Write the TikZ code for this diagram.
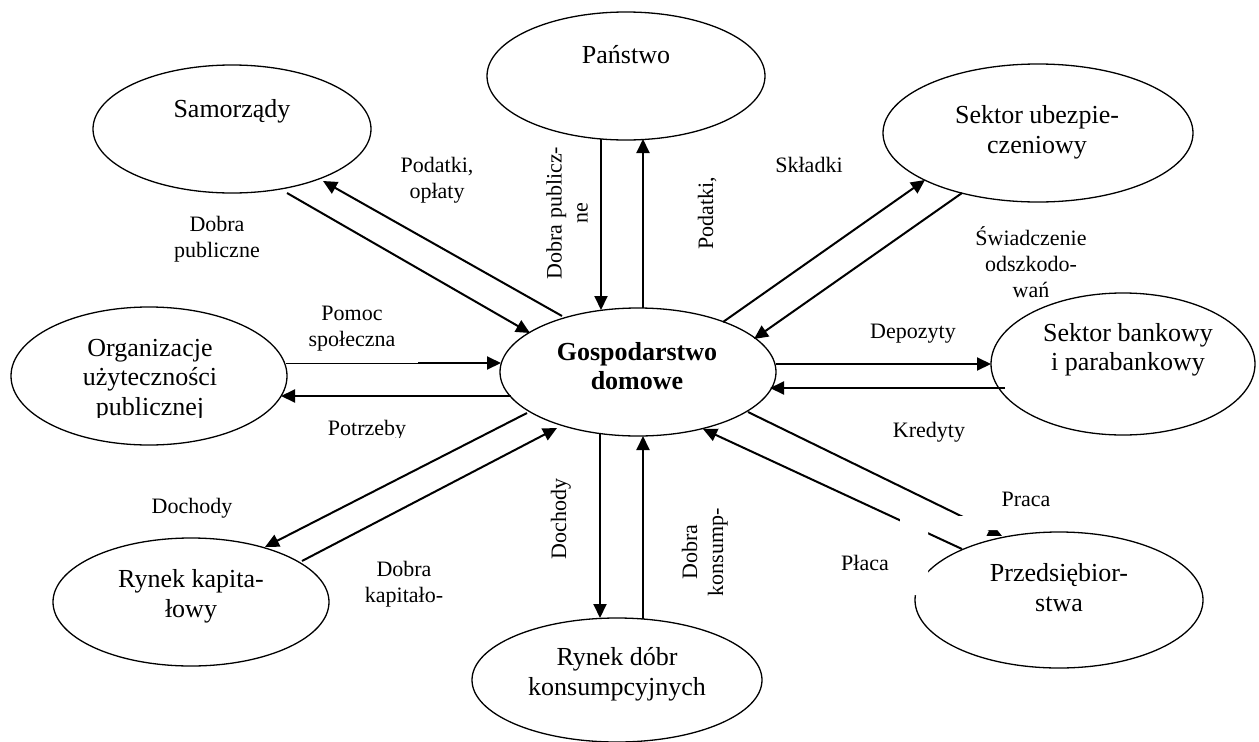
\documentclass[tikz,border=0pt]{standalone}
\usepackage{fontspec}
\setmainfont{Liberation Serif}
\usetikzlibrary{arrows.meta,calc,shapes.geometric}
\begin{document}
\begin{tikzpicture}[x=1pt,y=-1pt,
  sector/.style={draw, ellipse, line width=1.3pt, inner sep=0pt, outer sep=0pt},
  etext/.style={align=center, font=\fontsize{26}{29.5}\selectfont, inner sep=0pt,
    execute at begin node=\strut, execute at end node=\strut},
  lbl/.style={align=center, font=\fontsize{22}{26}\selectfont, inner sep=0pt,
    execute at begin node=\strut, execute at end node=\strut},
  flow/.style={line width=2pt, -{Triangle[length=14pt,width=13pt]}}]
\useasboundingbox (0,0) rectangle (1259,742);

% sectors
\node[sector, minimum width=278pt, minimum height=128pt] (pan) at (626,76) {};
\node[sector, minimum width=278pt, minimum height=128pt] (sam) at (232,129) {};
\node[sector, minimum width=310pt, minimum height=138pt] (ube) at (1038,133) {};
\node[sector, minimum width=264pt, minimum height=142pt] (ban) at (1123,364) {};
\node[sector, minimum width=276pt, minimum height=138pt] (org) at (149,376) {};
\node[sector, minimum width=276pt, minimum height=128pt] (gos) at (638,372) {};
\node[sector, minimum width=276pt, minimum height=128pt] (kap) at (191,602) {};
\node[sector, minimum width=290pt, minimum height=124pt] (dob) at (617,680) {};
\node[sector, minimum width=288pt, minimum height=136pt] (prz) at (1059,600) {};

% sector names
\node[etext] (tpan) at (626,57.1) {Państwo};
\node[etext] (tsam) at (232,111.8) {Samorządy};
\node[etext] (tube) at (1037,134.1) {Sektor ubezpie-\\czeniowy};
\node[etext] (tban) at (1128,351.6) {Sektor bankowy\\i parabankowy};
\begin{scope}
  \clip (0,300) rectangle (300,417);
  \node[etext] (torg) at (150,381.4) {Organizacje\\użyteczności\\publicznej};
\end{scope}
\node[etext, font=\fontsize{26}{29.5}\selectfont\bfseries] (tgos) at (637,370.6) {Gospodarstwo\\domowe};
\node[etext] (tkap) at (191,598.1) {Rynek kapita-\\łowy};
\node[etext] (tdob) at (617,676.1) {Rynek dóbr\\konsumpcyjnych};
\node[etext] (tprz) at (1059,592.1) {Przedsiębior-\\stwa};

% flows
\coordinate (pomoc) at (418,363);
\draw[flow] ($(pan.center)+(-25,63)$) -- ($(gos.center)+(-37,-62)$);
\draw[flow] ($(gos.center)+(5,-64)$) -- ($(pan.center)+(17,63)$);
\draw[flow] ($(gos.center)+(-76,-56)$) -- ($(sam.center)+(91,52)$);
\draw[flow] ($(sam.center)+(55,64)$) -- ($(gos.center)+(-108,-39)$);
\draw[line width=1pt] ($(org.center)+(137,-13)$) -- (pomoc);
\draw[flow] (pomoc) -- ($(gos.center)+(-137,-9)$);
\draw[flow] ($(gos.center)+(-127,24)$) -- ($(org.center)+(132,20)$);
\draw[flow] ($(gos.center)+(-111,41)$) -- ($(kap.center)+(74,-55)$);
\draw[flow] ($(kap.center)+(111,-41)$) -- ($(gos.center)+(-81,56)$);
\draw[flow] ($(gos.center)+(-38,62)$) -- ($(dob.center)+(-17,-62)$);
\draw[flow] ($(dob.center)+(26,-61)$) -- ($(gos.center)+(5,64)$);
\draw[flow] ($(gos.center)+(85,-50)$) -- ($(ube.center)+(-113,47)$);
\draw[flow] ($(ube.center)+(-76,60)$) -- ($(gos.center)+(116,-33)$);
\draw[flow] ($(gos.center)+(138,-8)$) -- ($(ban.center)+(-132,0)$);
\draw[flow] ($(ban.center)+(-118,24)$) -- ($(gos.center)+(132,16)$);
\draw[flow] ($(gos.center)+(110,40)$) -- ($(prz.center)+(-57,-64)$);
\draw[flow] ($(prz.center)+(-97,-51)$) -- ($(gos.center)+(65,57)$);

% blank patch over the corner of the enterprises oval
\fill[white] (900,516) -- (1012,516) -- (1012,530) -- (928,530) -- (928,595) -- (900,595) -- cycle;

% flow labels
\node[lbl, rotate=90] (ldp) at (570.8,213) {Dobra publicz-\\ne};
\node[lbl, rotate=90] (lpod) at (707.8,213.5) {Podatki,};
\node[lbl] (lpo) at (437,181.3) {Podatki,\\opłaty};
\node[lbl] (ldpub) at (217,240.8) {Dobra\\publiczne};
\node[lbl] (lpom) at (352,330.3) {Pomoc\\społeczna};
\begin{scope}
  \clip (300,400) rectangle (450,437);
  \node[lbl] (lpot) at (367,429.8) {Potrzeby};
\end{scope}
\node[lbl] (ldoch) at (192,507.8) {Dochody};
\node[lbl] (ldk) at (404,585.8) {Dobra\\kapitało-};
\node[lbl, rotate=90] (ldoch2) at (560.8,519) {Dochody};
\node[lbl, rotate=90] (ldkon) at (706.3,552) {Dobra\\konsump-};
\node[lbl] (lskl) at (809,166.8) {Składki};
\node[lbl] (lswi) at (1031,266.3) {Świadczenie\\odszkodo-\\wań};
\node[lbl] (ldep) at (913,332.8) {Depozyty};
\node[lbl] (lkre) at (929,431.8) {Kredyty};
\node[lbl] (lpra) at (1026,500.8) {Praca};
\node[lbl] (lpla) at (865,564.8) {Płaca};
\end{tikzpicture}
\end{document}
